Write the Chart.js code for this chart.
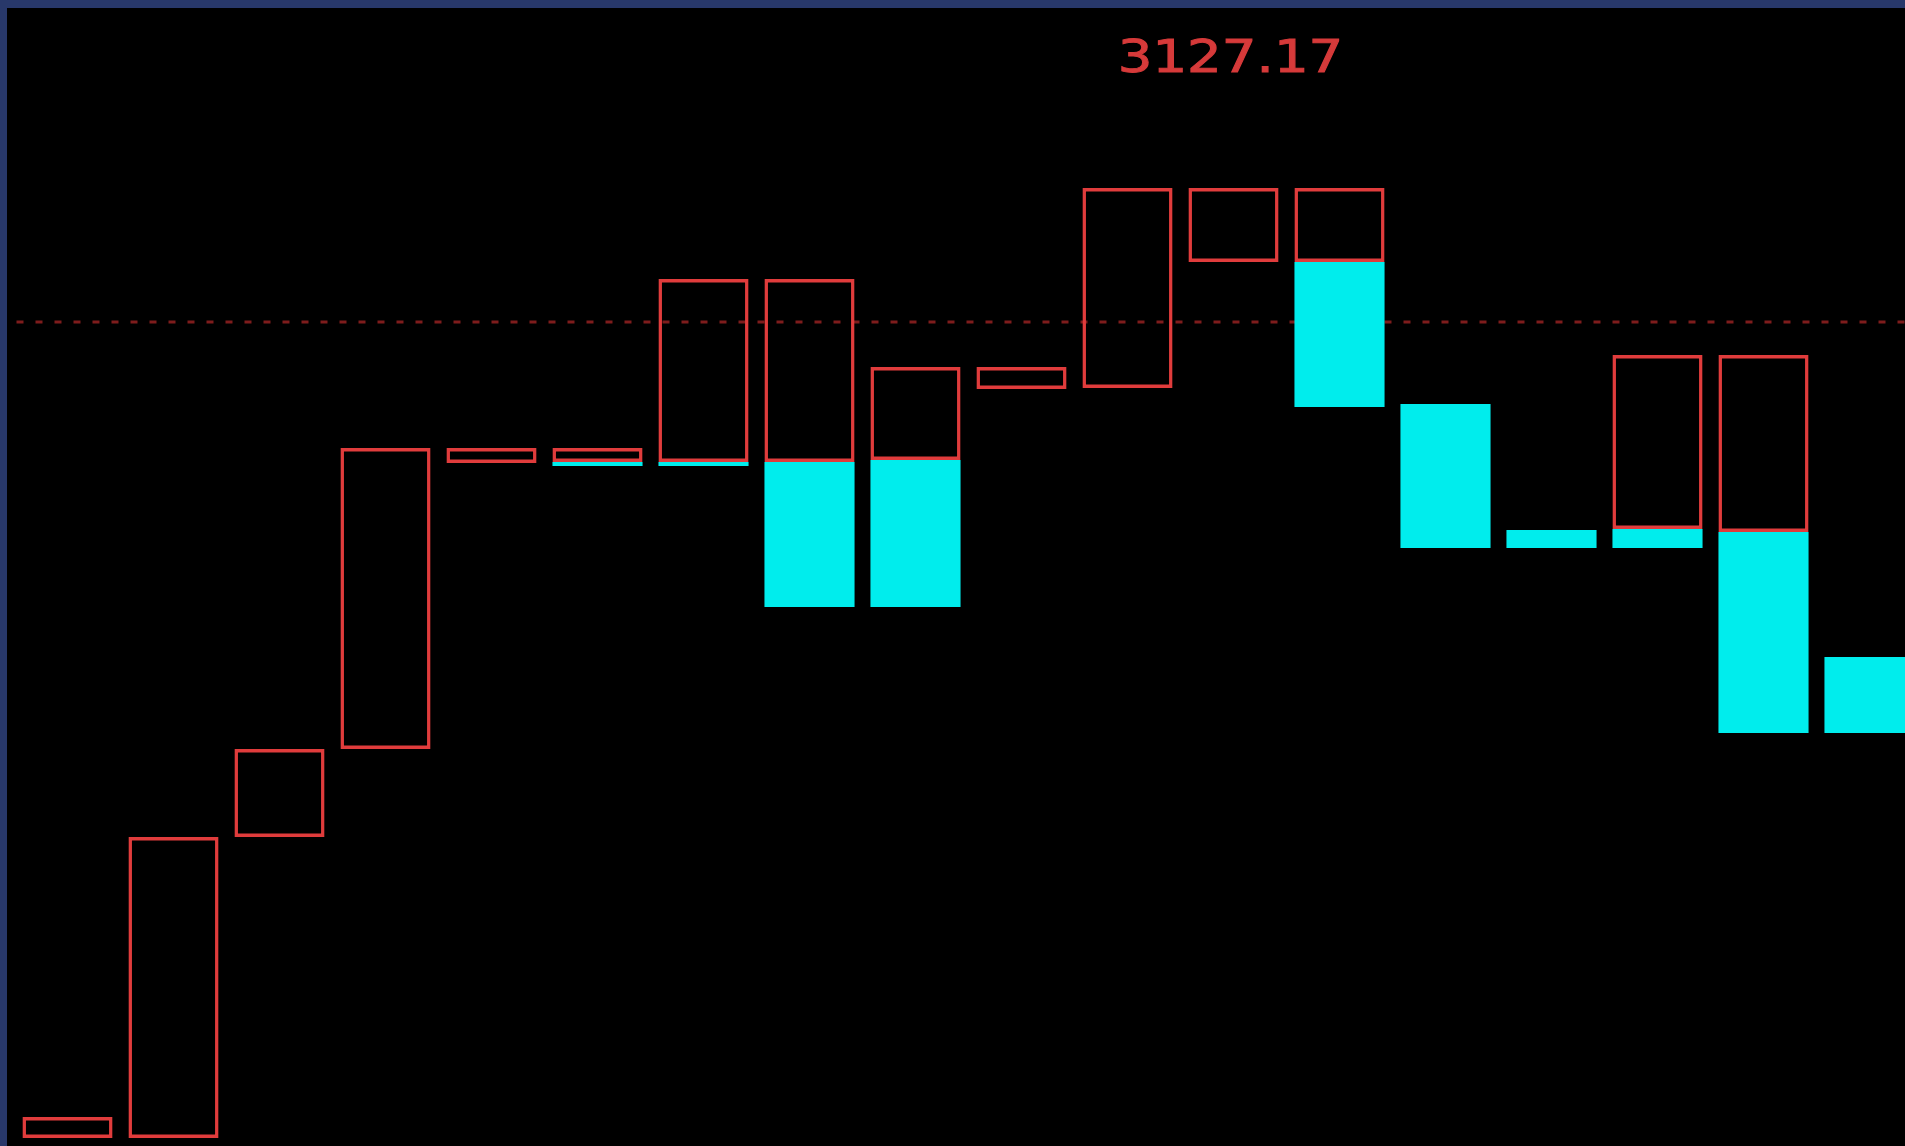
<!DOCTYPE html>
<html>
<head>
<meta charset="utf-8">
<script src="https://cdn.jsdelivr.net/npm/chart.js@4.4.1/dist/chart.umd.min.js"></script>
<style>
  html, body { margin: 0; padding: 0; background: #28386a; overflow: hidden; }
  #wrap { position: absolute; left: 7px; top: 8px; width: 1898px; height: 1138px; background: #000; }
  canvas { display: block; }
</style>
</head>
<body>
<div id="wrap"><canvas id="chart" width="1898" height="1138"></canvas></div>
<script>
// one slot per box, left to right
const slots = [0, 1, 2, 3, 4, 5, 6, 7, 8, 9, 10, 11, 12, 13, 14, 15, 16, 17];

// red hollow part (low / high), null = none
const upLow  = [3079.67, 3079.67, 3094.72, 3099.12, 3113.42, 3113.47, 3113.47, 3113.47, 3113.57, 3117.12,
                3117.17, 3123.47, 3123.47, null, null, 3110.12, 3109.97, null];
const upHigh = [3080.72, 3094.72, 3099.12, 3114.17, 3114.17, 3114.17, 3122.62, 3122.62, 3118.22, 3118.22,
                3127.17, 3127.17, 3127.17, null, null, 3118.82, 3118.82, null];

// cyan filled part (low / high), null = none
const downLow  = [null, null, null, null, null, 3113.27, 3113.27, 3106.22, 3106.22, null,
                  null, null, 3116.22, 3109.17, 3109.17, 3109.17, 3099.92, 3099.92];
const downHigh = [null, null, null, null, null, 3113.47, 3113.47, 3113.47, 3113.57, null,
                  null, null, 3123.47, 3116.37, 3110.07, 3110.12, 3109.97, 3103.72];

const refLevel = 3120.47;   // dotted reference line
const peakIndex = 11;
const peakText = "3127.17";

const yMin = 3079.27;
const yMax = 3136.17;

function ranges(lows, highs) {
  const out = [];
  slots.forEach((s, i) => {
    if (lows[i] != null && highs[i] != null) out.push({ x: s, y: [lows[i], highs[i]] });
  });
  return out;
}

const peakLabel = {
  id: "peakLabel",
  afterDatasetsDraw(chart) {
    const { ctx, scales } = chart;
    const cx = scales.x.getPixelForValue(peakIndex) - 3;
    ctx.save();
    ctx.translate(cx, 64);
    ctx.scale(1.24, 1);
    ctx.font = '44px "DejaVu Sans"';
    ctx.fillStyle = "#d63a3a";
    ctx.strokeStyle = "#d63a3a";
    ctx.lineWidth = 1;
    ctx.textAlign = "center";
    ctx.textBaseline = "alphabetic";
    ctx.fillText(peakText, 0, 0);
    ctx.strokeText(peakText, 0, 0);
    ctx.restore();
  },
};

new Chart(document.getElementById("chart"), {
  type: "bar",
  data: {
    datasets: [
      {
        label: "down",
        data: ranges(downLow, downHigh),
        backgroundColor: "#00eded",
        borderWidth: 0,
        grouped: false,
        barPercentage: 0.85,
        categoryPercentage: 1,
        order: 1,
      },
      {
        label: "up",
        data: ranges(upLow, upHigh),
        backgroundColor: "rgba(0,0,0,0)",
        borderColor: "#e03c3c",
        borderWidth: 3.5,
        borderSkipped: false,
        grouped: false,
        barPercentage: 0.85,
        categoryPercentage: 1,
        order: 2,
      },
      {
        type: "line",
        label: "ref",
        data: [{ x: -1, y: refLevel }, { x: 19, y: refLevel }],
        borderColor: "rgba(180,40,40,0.7)",
        borderWidth: 3,
        borderDash: [7, 12],
        borderDashOffset: 2,
        pointRadius: 0,
        order: 3,
      },
    ],
  },
  options: {
    responsive: false,
    animation: false,
    layout: { padding: 0 },
    plugins: { legend: { display: false }, tooltip: { enabled: false } },
    scales: {
      x: { type: "linear", min: -0.5708, max: 17.3349, offset: false, bounds: "ticks", display: false },
      y: { type: "linear", min: yMin, max: yMax, display: false },
    },
  },
  plugins: [peakLabel],
});
</script>
</body>
</html>
